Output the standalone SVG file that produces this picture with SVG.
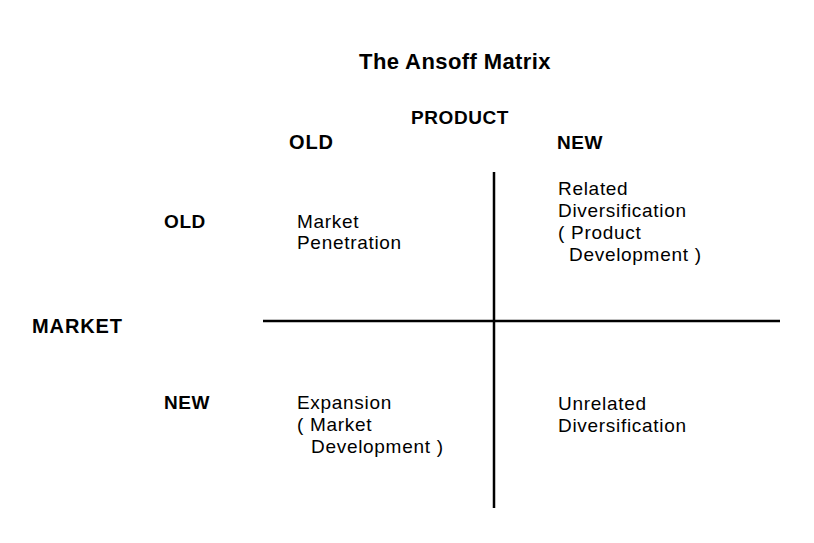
<svg xmlns="http://www.w3.org/2000/svg" width="814" height="543" viewBox="0 0 814 543">
<style>
text{font-family:"Liberation Sans",Arial,sans-serif;fill:#000;}
.h{font-weight:bold;font-size:19px;letter-spacing:0.6px;}
.big{font-size:20px;letter-spacing:0.9px;}
.t{font-size:19px;letter-spacing:0.7px;}
.title{font-weight:bold;font-size:22px;letter-spacing:0.4px;}
.ax{stroke:#000;stroke-width:2.5;fill:none;}
</style>
<rect width="814" height="543" fill="#fff"/>
<g id="title"><text class="title" x="455" y="69" text-anchor="middle">The Ansoff Matrix</text></g>
<g id="product"><text class="h" x="460" y="124" text-anchor="middle">PRODUCT</text></g>
<g id="col-old"><text class="h big" x="289" y="149">OLD</text></g>
<g id="col-new"><text class="h" x="557" y="149">NEW</text></g>
<g id="market"><text class="h big" x="32" y="333">MARKET</text></g>
<g id="row-old"><text class="h" x="164" y="228">OLD</text></g>
<g id="row-new"><text class="h" x="164" y="409">NEW</text></g>
<g id="q1"><text class="t" x="297" y="228">Market</text><text class="t" x="297" y="249">Penetration</text></g>
<g id="q2"><text class="t" x="558" y="195">Related</text><text class="t" x="558" y="217">Diversification</text><text class="t" x="558" y="239">( Product</text><text class="t" x="569" y="261">Development )</text></g>
<g id="q3"><text class="t" x="297" y="409">Expansion</text><text class="t" x="297" y="431">( Market</text><text class="t" x="311" y="453">Development )</text></g>
<g id="q4"><text class="t" x="558" y="410">Unrelated</text><text class="t" x="558" y="432">Diversification</text></g>
<g id="connectors">
<line class="ax" x1="263" y1="321" x2="780" y2="321"/>
<line class="ax" x1="494" y1="172" x2="494" y2="508"/>
</g>
</svg>
